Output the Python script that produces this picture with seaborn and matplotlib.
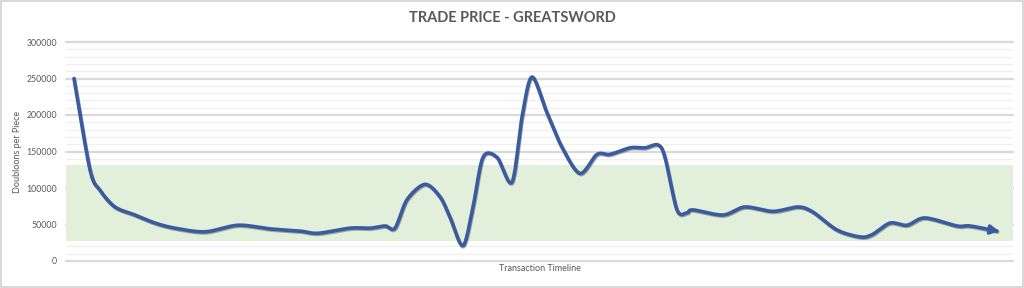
import numpy as np
import pandas as pd
import matplotlib
matplotlib.use("Agg")
import matplotlib.pyplot as plt
import matplotlib.patheffects as pe
import seaborn as sns

# ---- data ----
timeline = [8, 24, 34, 49, 69, 89, 109, 139, 172, 204, 234, 252, 284, 304, 319, 329,
            341, 359, 374, 384, 397, 407, 417, 431, 446, 456, 466, 481, 496, 514,
            531, 544, 564, 579, 592, 599, 611, 621, 627, 657, 679, 707, 732, 747,
            771, 794, 806, 824, 841, 859, 891, 904, 931]
price = [250000, 125000, 97000, 74000, 63000, 52000, 45000, 40000, 49000, 44000,
         41000, 38000, 45000, 45000, 48000, 45000, 84000, 105000, 88000, 60000,
         21000, 74000, 142000, 142000, 108000, 197000, 252000, 203000, 156000, 120000,
         146000, 146000, 155000, 155000, 159000, 142000, 70000, 66000, 70000, 63000,
         74000, 68000, 74000, 67000, 42500, 33000, 36000, 52000, 49000, 59000,
         48000, 48000, 41000]
band_low, band_high = 28000, 132000
yticks = [0, 50000, 100000, 150000, 200000, 250000, 300000]
title = "TRADE PRICE - GREATSWORD"
xlabel = "Transaction Timeline"
ylabel = "Doubloons per Piece"


def catmull_rom(x, y, n=20):
    P = np.column_stack([x, y]).astype(float)
    P = np.vstack([P[0] - (P[1] - P[0]), P, P[-1] + (P[-1] - P[-2])])
    out = []
    t = np.linspace(0, 1, n, endpoint=False)[:, None]
    for i in range(1, len(P) - 2):
        p0, p1, p2, p3 = P[i - 1], P[i], P[i + 1], P[i + 2]
        m1 = (p2 - p0) / 2 * 0.9
        m2 = (p3 - p1) / 2 * 0.9
        h00 = 2 * t**3 - 3 * t**2 + 1
        h10 = t**3 - 2 * t**2 + t
        h01 = -2 * t**3 + 3 * t**2
        h11 = t**3 - t**2
        out.append(h00 * p1 + h10 * m1 + h01 * p2 + h11 * m2)
    out.append(P[-2][None, :])
    return np.vstack(out)


sns.set_theme(style="white")
plt.rcParams["font.family"] = ["Lato", "DejaVu Sans"]

fig = plt.figure(figsize=(10.24, 2.88), dpi=100)
fig.patch.set_facecolor("white")
fig.patch.set_edgecolor("#D9D9D9")
fig.patch.set_linewidth(1.5)
ax = fig.add_axes([66 / 1024, 1 - 261 / 288, (1013 - 66) / 1024, (261 - 42) / 288])

ax.set_xlim(0, 947)
ax.set_ylim(0, 300000)

# minor and major gridlines
for v in range(10000, 300000, 10000):
    if v % 50000:
        ax.axhline(v, color="#EFEFEF", lw=0.9, zorder=0)
for v in yticks:
    ax.axhline(v, color="#D9D9D9", lw=1.6, zorder=0.5, clip_on=False)

ax.axhspan(band_low, band_high, color="#E2EFDA", zorder=1, lw=0)

curve = catmull_rom(timeline, price)
df = pd.DataFrame({"t": curve[:, 0], "p": curve[:, 1]})
sns.lineplot(data=df, x="t", y="p", sort=False, ax=ax, color="#3A5BA0", lw=2.6,
             zorder=3, solid_capstyle="round",
             path_effects=[pe.SimpleLineShadow(offset=(0.5, -0.8), shadow_color="#1a1a1a", alpha=0.35),
                           pe.Normal()])
ax.annotate("", xy=(curve[-1, 0] + 2, curve[-1, 1]), xytext=(curve[-6, 0], curve[-6, 1]),
            arrowprops=dict(arrowstyle="-|>,head_length=0.4,head_width=0.22",
                            color="#3A5BA0", lw=2.4, shrinkA=0, shrinkB=0), zorder=4)

ax.set_yticks(yticks)
ax.set_yticklabels([str(v) for v in yticks])
ax.set_xticks([])
ax.tick_params(axis="y", length=0, pad=6.5, labelsize=6.3, labelcolor="#595959")
for s in ax.spines.values():
    s.set_visible(False)

ax.set_xlabel(xlabel, fontsize=6.5, color="#595959", labelpad=2)
ax.set_ylabel(ylabel, fontsize=6.5, color="#595959")
ax.yaxis.set_label_coords(-44 / 947, 0.5)
fig.text(0.5, 1 - 18 / 288, title, ha="center", va="center", fontsize=10.5,
         fontweight="bold", color="#595959")

fig.savefig("out.png", dpi=100)
